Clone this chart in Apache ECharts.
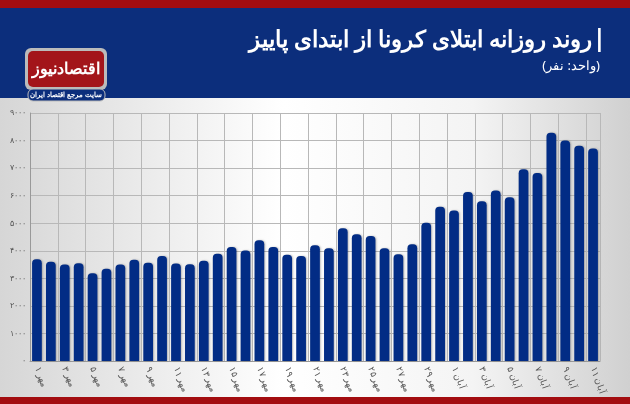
<!DOCTYPE html>
<html><head><meta charset="utf-8">
<script src="https://cdn.jsdelivr.net/npm/echarts@6/dist/echarts.min.js"></script>
<style>html,body{margin:0;padding:0;}#c{width:630px;height:404px;}</style>
</head><body><div id="c"></div>
<script>
const fa = n => String(n).replace(/\d/g, d => '۰۱۲۳۴۵۶۷۸۹'[d]);
const categories = [];
for (let i = 1; i <= 30; i++) categories.push(fa(i) + ' مهر');
for (let i = 1; i <= 11; i++) categories.push(fa(i) + ' آبان');
const cases = [3690,3600,3500,3550,3180,3350,3500,3670,3570,3810,3535,3510,3640,3890,4140,4010,4380,4140,3860,3810,
  4200,4090,4820,4600,4540,4090,3870,4240,5020,5600,5460,6130,5800,6190,5940,6960,6820,8280,8000,7810,7710];
const titleText = 'روند روزانه ابتلای کرونا از ابتدای پاییز';
const unitText = '(واحد: نفر)';
const chart = echarts.init(document.getElementById('c'));
chart.setOption({
  animation: false,
  backgroundColor: {type:'linear',x:0,y:0,x2:1,y2:0,colorStops:[{offset:0,color:'#d6d6d6'},{offset:0.45,color:'#ffffff'},{offset:0.75,color:'#f4f4f4'},{offset:1,color:'#d0d0d0'}]},
  graphic: [
    {type:'rect',shape:{x:0,y:0,width:630,height:8},style:{fill:'#a30d10'}},
    {type:'rect',shape:{x:0,y:8,width:630,height:90},style:{fill:'#0c2e7c'}},
    {type:'rect',shape:{x:0,y:397,width:630,height:7},style:{fill:'#a30d10'}},
    {type:'rect',shape:{x:25,y:48,width:82,height:42,r:6},style:{fill:'#bbbbbb'}},
    {type:'rect',shape:{x:28,y:51,width:76,height:36,r:5},style:{fill:'#a3151a'}},
    {type:'text',x:66,y:69,style:{text:'اقتصادنیوز',fill:'#fff',font:'bold 16px "Noto Sans"',align:'center',verticalAlign:'middle'}},
    {type:'rect',shape:{x:28,y:89,width:77,height:12,r:5},style:{fill:'#0c2e7c',stroke:'#bbb',lineWidth:1}},
    {type:'text',x:66,y:95,style:{text:'سایت مرجع اقتصاد ایران',fill:'#fff',font:'bold 7px "Noto Sans"',align:'center',verticalAlign:'middle'}},
    {type:'text',x:606,y:39,style:{text:'|',fill:'#fff',font:'bold 24px "Noto Sans"',align:'right',verticalAlign:'middle'}},
    {type:'text',x:592,y:40,style:{text:titleText,fill:'#fff',font:'bold 23px "Noto Sans"',align:'right',verticalAlign:'middle'}},
    {type:'text',x:600,y:66,style:{text:unitText,fill:'#fff',font:'13px "Noto Sans"',align:'right',verticalAlign:'middle'}}
  ],
  grid: {left:30, right:30, top:113, bottom:43},
  xAxis: {
    type:'category', data:categories,
    axisLine:{lineStyle:{color:'#999'}}, axisTick:{show:false},
    splitLine:{show:true,lineStyle:{color:'#b8b8b8'}},
    axisLabel:{interval:1, rotate:-70, color:'#555', fontSize:9, fontFamily:'Noto Sans', margin:6}
  },
  yAxis: {
    type:'value', min:0, max:9000, interval:1000,
    axisLine:{show:true,lineStyle:{color:'#999'}},
    splitLine:{lineStyle:{color:'#b8b8b8'}},
    axisLabel:{color:'#555', fontSize:8, fontFamily:'Noto Sans', formatter:v=>fa(v), margin:4}
  },
  series: [{
    type:'bar', data:cases, barCategoryGap:'30%',
    itemStyle:{color:'#022c85', borderRadius:[4,4,0,0], shadowColor:'rgba(0,0,0,0.25)', shadowBlur:2, shadowOffsetX:1}
  }]
});
</script></body></html>
